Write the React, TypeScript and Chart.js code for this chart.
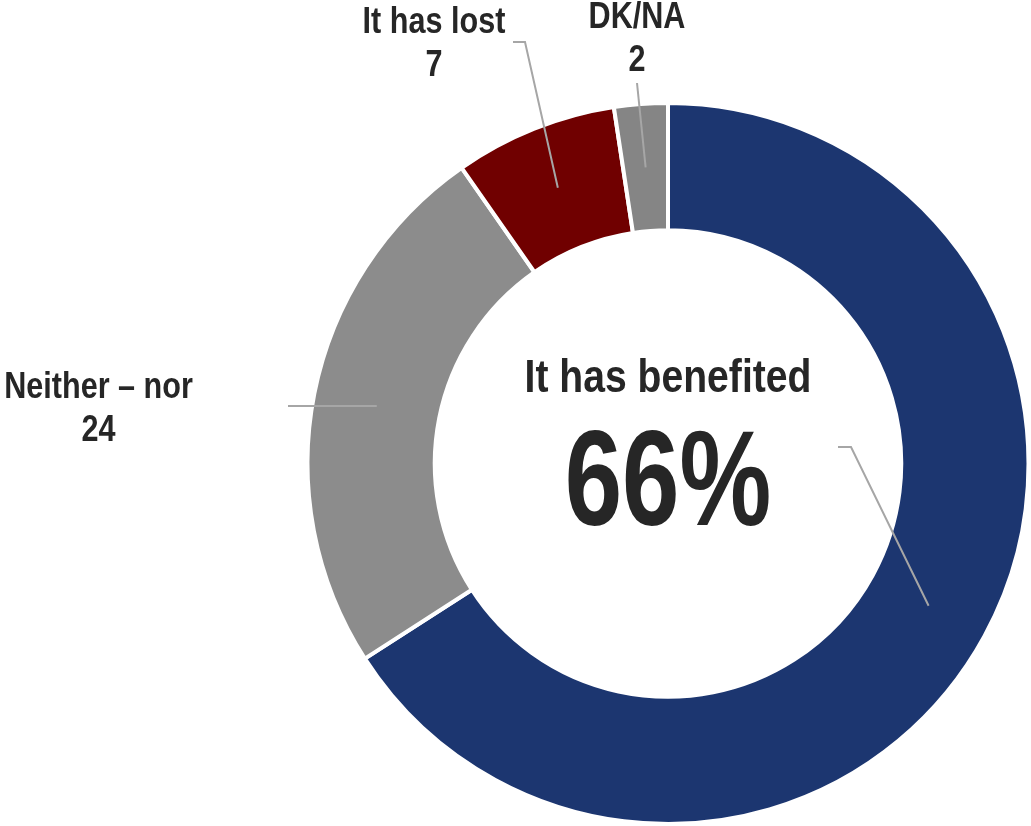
import React, { useEffect, useRef } from "react";
import { Chart, registerables } from "chart.js";

Chart.register(...registerables);

const categories = ["It has benefited", "Neither – nor", "It has lost", "DK/NA"];
const values = [65.9, 24.4, 7.3, 2.4];
const colors = ["#1c3670", "#8c8c8c", "#700000", "#858585"];

const FONT = '"Liberation Sans", Arial, sans-serif';
const TEXT_COLOR = "#262626";
const LINE_COLOR = "#a6a6a6";

// Label layout: text centre x, first baseline, and leader line start points
const labelLayout = [
  { x: 0, y: 0, line: [[838, 447], [851, 447]] },
  { x: 98.5, y: 398, line: [[288, 406]] },
  { x: 434, y: 33, line: [[513, 42], [525, 42]] },
  { x: 637, y: 28, line: [[637, 83]] },
];

function narrowText(ctx: CanvasRenderingContext2D, text: string, x: number, y: number, size: number, sx: number) {
  ctx.save();
  ctx.font = `bold ${size}px ${FONT}`;
  ctx.translate(x, y);
  ctx.scale(sx, 1);
  ctx.fillText(text, 0, 0);
  ctx.restore();
}

const labelPlugin = {
  id: "labels",
  afterDatasetsDraw(chart: any) {
    const ctx = chart.ctx;
    const meta = chart.getDatasetMeta(0);
    ctx.save();
    // leader lines
    ctx.strokeStyle = LINE_COLOR;
    ctx.lineWidth = 2;
    meta.data.forEach((arc: any, i: number) => {
      const p = arc.tooltipPosition(false);
      const pts = labelLayout[i].line;
      ctx.beginPath();
      ctx.moveTo(pts[0][0], pts[0][1]);
      for (let k = 1; k < pts.length; k++) ctx.lineTo(pts[k][0], pts[k][1]);
      ctx.lineTo(p.x, p.y);
      ctx.stroke();
    });
    // outside labels
    ctx.fillStyle = TEXT_COLOR;
    ctx.textAlign = "center";
    ctx.textBaseline = "alphabetic";
    for (let i = 1; i < categories.length; i++) {
      const l = labelLayout[i];
      narrowText(ctx, categories[i], l.x, l.y, 36, 0.85);
      narrowText(ctx, String(Math.round(values[i])), l.x, l.y + 43, 36, 0.85);
    }
    // centre text
    const cx = (chart.chartArea.left + chart.chartArea.right) / 2;
    narrowText(ctx, categories[0], cx, 392, 46, 0.85);
    narrowText(ctx, `${Math.round(values[0])}%`, cx, 525, 135, 0.765);
    ctx.restore();
  },
};

export default function App() {
  const ref = useRef<HTMLCanvasElement>(null);
  useEffect(() => {
    document.body.style.margin = "0";
    const chart = new Chart(ref.current!, {
      type: "doughnut",
      data: {
        labels: categories,
        datasets: [
          {
            data: values,
            backgroundColor: colors,
            borderColor: "#ffffff",
            borderWidth: 4,
          },
        ],
      },
      options: {
        responsive: false,
        animation: false,
        cutout: "64.7%",
        layout: { padding: { left: 305, right: 0, top: 101, bottom: 0 } },
        plugins: {
          legend: { display: false },
          tooltip: { enabled: false },
        },
      },
      plugins: [labelPlugin],
    });
    return () => chart.destroy();
  }, []);
  return (
    <div style={{ position: "absolute", left: 0, top: 0, width: 1031, height: 826, background: "#fff" }}>
      <canvas ref={ref} width={1031} height={826} />
    </div>
  );
}
